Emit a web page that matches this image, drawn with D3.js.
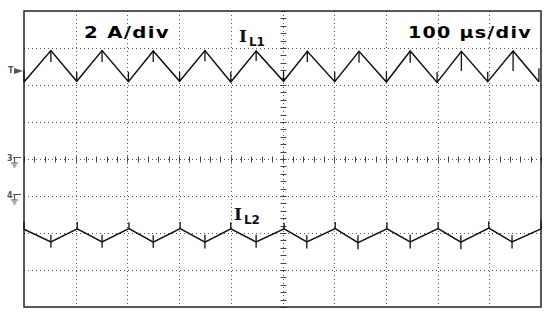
<!DOCTYPE html>
<html>
<head>
<meta charset="utf-8">
<script src="https://cdn.jsdelivr.net/npm/d3@7"></script>
<style>
  body { margin: 0; background: #fff; }
  svg { display: block; }
</style>
</head>
<body>
<script>
// time in microseconds, current in divisions (2 A/div)
var il1Time  = [0, 52, 102, 151, 202, 250, 301, 350, 400, 449, 502, 548, 601, 648, 701, 747, 799, 846, 897, 946, 996];
var il1Value = [2.08, 2.93, 2.10, 2.93, 2.09, 2.92, 2.10, 2.93, 2.08, 2.92, 2.10, 2.91, 2.09, 2.91, 2.08, 2.92, 2.07, 2.91, 2.09, 2.92, 2.09];
// short switching spikes at each vertex (tip value)
var il1Spike = [2.40, 2.62, 2.35, 2.62, 2.36, 2.62, 2.35, 2.64, 2.36, 2.65, 2.37, 2.62, 2.36, 2.60, 2.37, 2.60, 2.35, 2.38, 2.36, 2.38, 2.45];

var il2Time  = [0, 52, 103, 151, 203, 250, 302, 350, 400, 449, 503, 547, 602, 646, 702, 747, 801, 845, 899, 944, 1000];
var il2Value = [-1.90, -2.24, -1.89, -2.24, -1.88, -2.25, -1.88, -2.25, -1.89, -2.24, -1.89, -2.24, -1.88, -2.26, -1.89, -2.24, -1.88, -2.25, -1.87, -2.24, -1.89];
var il2SpikeHi = [-1.70, -2.05, -1.70, -2.05, -1.71, -2.06, -1.70, -2.05, -1.71, -2.05, -1.72, -2.06, -1.70, -2.06, -1.71, -2.05, -1.70, -2.06, -1.68, -2.06, -1.66];
var il2SpikeLo = [-1.90, -2.40, -1.89, -2.40, -1.88, -2.40, -1.88, -2.42, -1.89, -2.40, -1.89, -2.42, -1.88, -2.44, -1.89, -2.42, -1.88, -2.44, -1.87, -2.42, -1.89];

var xGrid = [0, 100, 200, 300, 400, 500, 600, 700, 800, 900, 1000];
var yGrid = [-4, -3, -2, -1, 0, 1, 2, 3, 4];

var width = 550, height = 319;

var x = d3.scaleLinear().domain([0, 1000]).range([24, 541]);
var y = d3.scaleLinear().domain([-4, 4]).range([307, 11]);

var svg = d3.select("body").append("svg")
    .attr("width", width)
    .attr("height", height);

// dotted grid
svg.append("g").selectAll("line")
    .data(xGrid.slice(1, -1))
    .enter().append("line")
    .attr("x1", function(d) { return Math.round(x(d)) + 0.5; })
    .attr("x2", function(d) { return Math.round(x(d)) + 0.5; })
    .attr("y1", y(4)).attr("y2", y(-4))
    .attr("stroke", "#555")
    .attr("stroke-dasharray", "1,3");

svg.append("g").selectAll("line")
    .data(yGrid.slice(1, -1))
    .enter().append("line")
    .attr("y1", function(d) { return Math.round(y(d)) + 0.5; })
    .attr("y2", function(d) { return Math.round(y(d)) + 0.5; })
    .attr("x1", x(0)).attr("x2", x(1000))
    .attr("stroke", "#555")
    .attr("stroke-dasharray", "1,3");

// minor ticks on the centre axes
var cx = Math.round(x(500)) + 0.5, cy = Math.round(y(0)) + 0.5;
svg.append("g").selectAll("line")
    .data(d3.range(0, 1001, 20))
    .enter().append("line")
    .attr("x1", function(d) { return Math.round(x(d)) + 0.5; })
    .attr("x2", function(d) { return Math.round(x(d)) + 0.5; })
    .attr("y1", cy - 3).attr("y2", cy + 3)
    .attr("stroke", "#444");
svg.append("g").selectAll("line")
    .data(d3.range(-4, 4.01, 0.2))
    .enter().append("line")
    .attr("y1", function(d) { return Math.round(y(d)) + 0.5; })
    .attr("y2", function(d) { return Math.round(y(d)) + 0.5; })
    .attr("x1", cx - 3).attr("x2", cx + 3)
    .attr("stroke", "#444");

// frame
svg.append("rect")
    .attr("x", x(0)).attr("y", y(4))
    .attr("width", x(1000) - x(0))
    .attr("height", y(-4) - y(4))
    .attr("fill", "none")
    .attr("stroke", "#222")
    .attr("stroke-width", 1.5);

var line = d3.line()
    .x(function(d) { return x(d[0]); })
    .y(function(d) { return y(d[1]); });

function trace(times, values) {
  svg.append("path")
    .attr("d", line(times.map(function(t, i) { return [t, values[i]]; })))
    .attr("fill", "none")
    .attr("stroke", "#111")
    .attr("stroke-width", 1.5)
    .attr("stroke-linejoin", "miter");
}
trace(il1Time, il1Value);
trace(il2Time, il2Value);

// spikes
svg.append("g").selectAll("line")
    .data(il1Time)
    .enter().append("line")
    .attr("x1", function(d) { return x(d); })
    .attr("x2", function(d) { return x(d); })
    .attr("y1", function(d, i) { return y(il1Value[i]); })
    .attr("y2", function(d, i) { return y(il1Spike[i]); })
    .attr("stroke", "#111").attr("stroke-width", 1.3);

svg.append("g").selectAll("line")
    .data(il2Time)
    .enter().append("line")
    .attr("x1", function(d) { return x(d); })
    .attr("x2", function(d) { return x(d); })
    .attr("y1", function(d, i) { return y(il2SpikeHi[i]); })
    .attr("y2", function(d, i) { return y(il2SpikeLo[i]); })
    .attr("stroke", "#111").attr("stroke-width", 1.3);

// labels
svg.append("text")
    .attr("x", 84).attr("y", 38)
    .attr("font-family", "DejaVu Sans")
    .attr("font-weight", "bold")
    .attr("font-size", "15px")
    .attr("letter-spacing", "1px")
    .attr("textLength", 86)
    .attr("lengthAdjust", "spacingAndGlyphs")
    .text("2 A/div");

svg.append("text")
    .attr("x", 408).attr("y", 38)
    .attr("font-family", "DejaVu Sans")
    .attr("font-weight", "bold")
    .attr("font-size", "15px")
    .attr("letter-spacing", "1px")
    .attr("textLength", 124)
    .attr("lengthAdjust", "spacingAndGlyphs")
    .text("100 \u00b5s/div");

function currentLabel(px, py, sub) {
  var t = svg.append("text")
      .attr("x", px).attr("y", py)
      .attr("font-weight", "bold")
      .attr("fill", "#111");
  t.append("tspan")
      .attr("font-family", "DejaVu Serif")
      .attr("font-size", "17px")
      .text("I");
  t.append("tspan")
      .attr("dx", 2).attr("dy", 4)
      .attr("font-family", "DejaVu Sans")
      .attr("font-size", "12px")
      .text(sub);
}
currentLabel(239, 42, "L1");
currentLabel(234, 220, "L2");

// channel markers on the left
var mk = svg.append("g").attr("fill", "#555").attr("stroke", "#555");
mk.append("text").attr("x", 8).attr("y", 73).attr("stroke", "none")
  .attr("font-family", "DejaVu Sans").attr("font-size", "8px").attr("font-weight", "bold").text("T");
mk.append("path").attr("d", "M14,68 L23,71 L14,74 Z").attr("stroke", "none");

function groundMarker(label, v) {
  var py = Math.round(y(v));
  mk.append("text").attr("x", 7).attr("y", py + 2).attr("stroke", "none")
    .attr("font-family", "DejaVu Sans").attr("font-size", "8px").attr("font-weight", "bold").text(label);
  mk.append("path").attr("fill", "none").attr("stroke-width", 1.2)
    .attr("d", "M13," + (py - 1.5) + " H21 M14.5," + (py - 1.5) + " V" + (py + 4) +
               " M11," + (py + 4) + " H18 M12.5," + (py + 6) + " H16.5 M13.5," + (py + 8) + " H15.5");
}
groundMarker("3", 0);
groundMarker("4", -1);
</script>
</body>
</html>
